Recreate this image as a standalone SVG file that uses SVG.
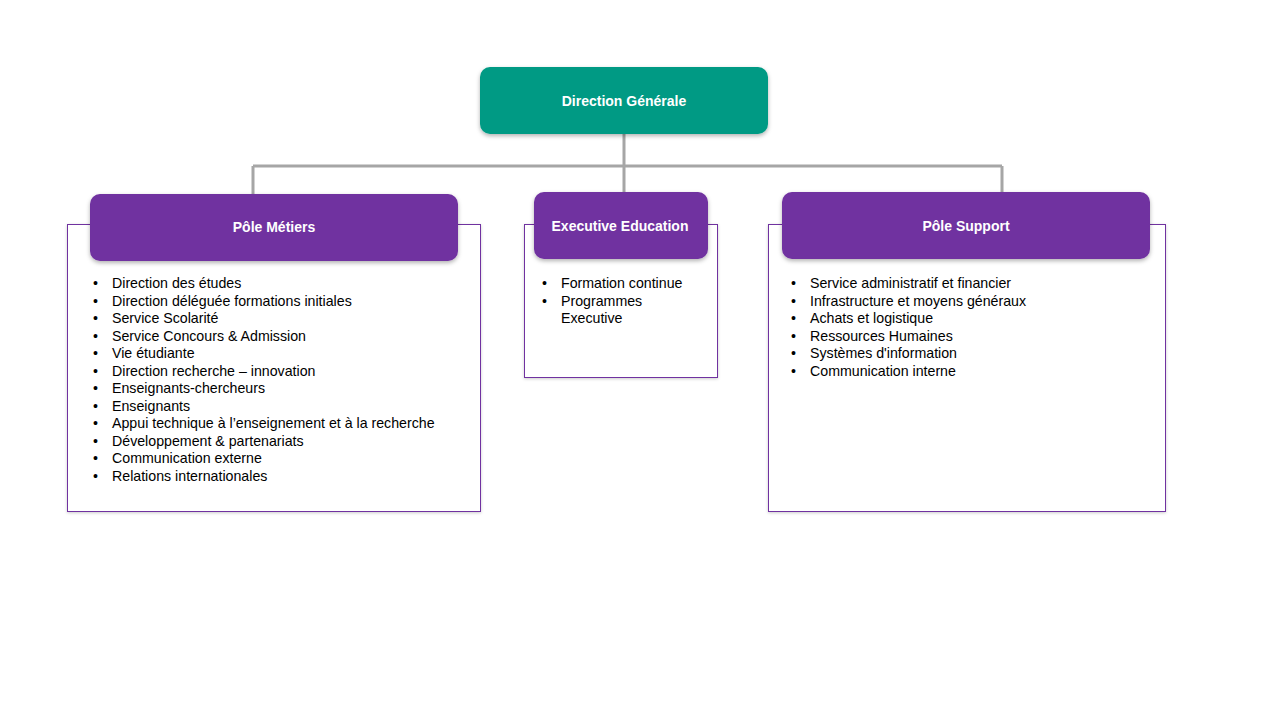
<svg xmlns="http://www.w3.org/2000/svg" width="1280" height="720" viewBox="0 0 1280 720">
<defs>
<filter id="sh" x="-10%" y="-20%" width="120%" height="150%">
<feDropShadow dx="0" dy="2" stdDeviation="2" flood-color="#000" flood-opacity="0.3"/>
</filter>
<filter id="sh2" x="-5%" y="-5%" width="110%" height="110%">
<feDropShadow dx="0" dy="1" stdDeviation="1.5" flood-color="#000" flood-opacity="0.2"/>
</filter>
</defs>
<style>
.hdr{fill:#7030A0;filter:url(#sh)}
.top{fill:#009A84;filter:url(#sh)}
.body{fill:#fff;stroke:#7030A0;stroke-width:1;filter:url(#sh2)}
.ht{font-family:"Liberation Sans",Arial,sans-serif;font-size:14px;font-weight:bold;fill:#fff;text-anchor:middle}
.li{font-family:"Liberation Sans",Arial,sans-serif;font-size:14.2px;fill:#000}
.conn{stroke:#A6A6A6;stroke-width:3;fill:none}
</style>
<rect width="1280" height="720" fill="#fff"/>
<g id="connectors">
<path class="conn" d="M624,134 V166 M253,166 H1002 M253,166 V194 M624,166 V192 M1002,166 V192"/>
</g>
<g id="direction-generale">
<rect class="top" x="480" y="67" width="288" height="67" rx="10"/>
<text class="ht" x="624" y="106">Direction Générale</text>
</g>
<g id="pole-metiers">
<rect class="body" x="67.5" y="224.5" width="413" height="287"/>
<rect class="hdr" x="90" y="194" width="368" height="67" rx="10"/>
<text class="ht" x="274" y="232">Pôle Métiers</text>
<g class="li">
<text x="93" y="288">•</text><text x="112" y="288">Direction des études</text>
<text x="93" y="305.5">•</text><text x="112" y="305.5">Direction déléguée formations initiales</text>
<text x="93" y="323">•</text><text x="112" y="323">Service Scolarité</text>
<text x="93" y="340.5">•</text><text x="112" y="340.5">Service Concours &amp; Admission</text>
<text x="93" y="358">•</text><text x="112" y="358">Vie étudiante</text>
<text x="93" y="375.5">•</text><text x="112" y="375.5">Direction recherche – innovation</text>
<text x="93" y="393">•</text><text x="112" y="393">Enseignants-chercheurs</text>
<text x="93" y="410.5">•</text><text x="112" y="410.5">Enseignants</text>
<text x="93" y="428">•</text><text x="112" y="428">Appui technique à l’enseignement et à la recherche</text>
<text x="93" y="445.5">•</text><text x="112" y="445.5">Développement &amp; partenariats</text>
<text x="93" y="463">•</text><text x="112" y="463">Communication externe</text>
<text x="93" y="480.5">•</text><text x="112" y="480.5">Relations internationales</text>
</g>
</g>
<g id="executive-education">
<rect class="body" x="524.5" y="224.5" width="193" height="153"/>
<rect class="hdr" x="534" y="192" width="174" height="67" rx="10"/>
<text class="ht" x="620" y="231">Executive Education</text>
<g class="li">
<text x="542" y="288">•</text><text x="561" y="288">Formation continue</text>
<text x="542" y="305.5">•</text><text x="561" y="305.5">Programmes</text>
<text x="561" y="323">Executive</text>
</g>
</g>
<g id="pole-support">
<rect class="body" x="768.5" y="224.5" width="397" height="287"/>
<rect class="hdr" x="782" y="192" width="368" height="67" rx="10"/>
<text class="ht" x="966" y="231">Pôle Support</text>
<g class="li">
<text x="791" y="288">•</text><text x="810" y="288">Service administratif et financier</text>
<text x="791" y="305.5">•</text><text x="810" y="305.5">Infrastructure et moyens généraux</text>
<text x="791" y="323">•</text><text x="810" y="323">Achats et logistique</text>
<text x="791" y="340.5">•</text><text x="810" y="340.5">Ressources Humaines</text>
<text x="791" y="358">•</text><text x="810" y="358">Systèmes d'information</text>
<text x="791" y="375.5">•</text><text x="810" y="375.5">Communication interne</text>
</g>
</g>
</svg>
